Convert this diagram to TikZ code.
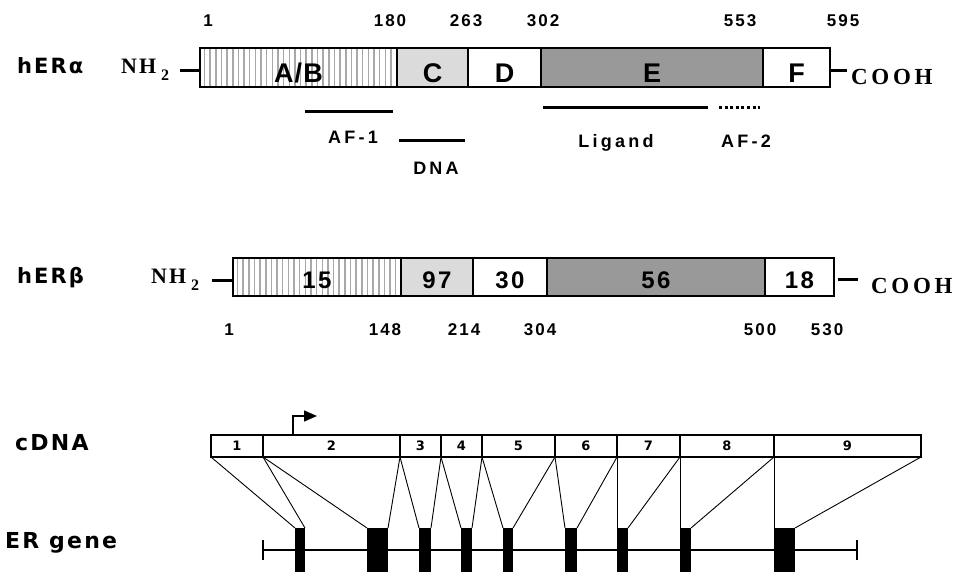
\documentclass[tikz,border=0pt]{standalone}
\usepackage{fontspec}
\setmainfont{Liberation Sans}
\newfontfamily\numf{Liberation Sans Bold}[LetterSpace=12]
\newfontfamily\lblf{Liberation Sans Bold}[LetterSpace=18]
\newfontfamily\boxf{Liberation Sans Bold}[LetterSpace=4]
\newfontfamily\boxbf{Liberation Sans Bold}[LetterSpace=10]
\newfontfamily\serf{Liberation Serif Bold}
\newfontfamily\coohf{Liberation Serif Bold}[LetterSpace=16]
\newfontfamily\comf{DejaVu Sans Bold}[LetterSpace=10]
\newfontfamily\comsf{DejaVu Sans Bold}
\usetikzlibrary{arrows.meta}
\definecolor{lgray}{gray}{0.86}
\definecolor{mgray}{gray}{0.60}
\definecolor{hgray}{gray}{0.66}
\newcommand{\nhtwo}{N\kern2pt H\kern5pt\raisebox{-7pt}{\fontsize{16}{16}\selectfont 2}}
\begin{document}
\begin{tikzpicture}[x=1pt,y=-1pt,
  seg/.style={draw, line width=1.4pt, inner sep=0pt, outer sep=0pt},
  rowA/.style={seg, minimum height=39pt, text height=31pt, text depth=0pt,
    font={\fontsize{27}{27}\boxf}},
  rowB/.style={seg, minimum height=38pt, text height=22pt, text depth=0pt,
    font={\fontsize{24}{24}\boxbf}},
  hatchln/.style={line width=1.5pt, draw=hgray},
  hatch/.style={path picture={
    \foreach \i in {4.5,10.15,...,200}
      \draw[hatchln] ([xshift=\i pt]path picture bounding box.north west) --
                     ([xshift=\i pt]path picture bounding box.south west);}},
  num/.style={anchor=base, inner sep=0pt, font={\fontsize{17}{17}\numf}},
  dom/.style={anchor=base, inner sep=0pt, font={\fontsize{18}{18}\lblf}},
  rowlbl/.style={anchor=base west, inner sep=0pt, font={\fontsize{21}{21}\comf}},
  term/.style={anchor=base west, inner sep=0pt, font={\fontsize{22}{22}\serf}},
  cooh/.style={anchor=base west, inner sep=0pt, font={\fontsize{23}{23}\coohf}},
  termdash/.style={line width=3pt},
  domline/.style={line width=3pt},
  cseg/.style={draw, line width=1.5pt, inner sep=0pt, outer sep=0pt, minimum height=22pt,
    font={\fontsize{13}{13}\comsf}},
  exon/.style={fill=black, draw=none, inner sep=0pt, outer sep=0pt, minimum height=44pt},
  link/.style={line width=0.9pt}
]
\useasboundingbox (0,0) rectangle (961,572);

% ---------------- hER alpha ----------------
\node[rowlbl] (la) at (17,74) {hERα};
\node[term] (nha) at (121,74) {\nhtwo};
\node[rowA, hatch, minimum width=197pt] (ab) at (298.5,67.5) {A/B};
\node[rowA, fill=lgray, minimum width=71pt] (c) at (432.5,67.5) {C};
\node[rowA, minimum width=73pt] (d) at (504.5,67.5) {D};
\node[rowA, fill=mgray, minimum width=222pt] (e) at (652,67.5) {E};
\node[rowA, minimum width=67pt] (f) at (796.5,67.5) {F};
\node[cooh] (ca) at (851,85) {COOH};
\coordinate (nhaend) at (180,71);
\coordinate (caend) at (847,71);
\draw[termdash] (nhaend) -- (ab.west |- nhaend);
\draw[termdash] (f.east |- caend) -- (caend);

\node[num] (n1) at (208,27) {1};
\node[num] (n180) at (390,27) {180};
\node[num] (n263) at (466,27) {263};
\node[num] (n302) at (543,27) {302};
\node[num] (n553) at (740,27) {553};
\node[num] (n595) at (843,27) {595};

\coordinate (af1a) at (305,112); \coordinate (af1b) at (393,112);
\coordinate (dnaa) at (399,141); \coordinate (dnab) at (465,141);
\coordinate (liga) at (543,108); \coordinate (ligb) at (708,108);
\coordinate (af2a) at (719,108); \coordinate (af2b) at (760,108);
\draw[domline] (af1a) -- (af1b);
\draw[domline] (dnaa) -- (dnab);
\draw[domline] (liga) -- (ligb);
\draw[line width=3pt, dash pattern=on 3pt off 2.6pt] (af2a) -- (af2b);
\node[dom] (taf1) at (353,144) {AF-1};
\node[dom] (tdna) at (436,175) {DNA};
\node[dom] (tlig) at (616,148) {Ligand};
\node[dom] (taf2) at (746,148) {AF-2};

% ---------------- hER beta ----------------
\node[rowlbl] (lb) at (17,283) {hERβ};
\node[term] (nhb) at (151,283) {\nhtwo};
\node[rowB, hatch, minimum width=168pt] (b15) at (317,277) {15};
\node[rowB, fill=lgray, minimum width=72pt] (b97) at (437,277) {97};
\node[rowB, minimum width=74pt] (b30) at (510,277) {30};
\node[rowB, fill=mgray, minimum width=218pt] (b56) at (656,277) {56};
\node[rowB, minimum width=69pt] (b18) at (799.5,277) {18};
\node[cooh] (cb) at (871,293) {COOH};
\coordinate (nhbend) at (212,280);
\coordinate (cba) at (838,279); \coordinate (cbb) at (858,279);
\draw[termdash] (nhbend) -- (b15.west |- nhbend);
\draw[termdash] (cba) -- (cbb);

\node[num] (m1) at (229,335) {1};
\node[num] (m148) at (385,335) {148};
\node[num] (m214) at (464,335) {214};
\node[num] (m304) at (540,335) {304};
\node[num] (m500) at (760,335) {500};
\node[num] (m530) at (827,335) {530};

% ---------------- cDNA / gene ----------------
\node[rowlbl, font={\fontsize{22}{22}\comf}] (lc) at (15,450) {cDNA};
\node[rowlbl, font={\fontsize{22}{22}\comf}] (lg) at (5,548) {ER gene};

\node[cseg, minimum width=52pt]  (c1) at (237,446)   {1};
\node[cseg, minimum width=137pt] (c2) at (331.5,446) {2};
\node[cseg, minimum width=41pt]  (c3) at (420.5,446) {3};
\node[cseg, minimum width=41pt]  (c4) at (461.5,446) {4};
\node[cseg, minimum width=73pt]  (c5) at (518.5,446) {5};
\node[cseg, minimum width=62pt]  (c6) at (586,446)   {6};
\node[cseg, minimum width=63pt]  (c7) at (648.5,446) {7};
\node[cseg, minimum width=94pt]  (c8) at (727,446)   {8};
\node[cseg, minimum width=147pt] (c9) at (847.5,446) {9};

\coordinate (tss) at ([xshift=30pt]c2.north west);
\coordinate (tssend) at (317,416);
\draw[line width=1.5pt, -{Triangle[length=13pt,width=11pt]}] (tss) |- (tssend);

\coordinate (gl) at (263,550);
\coordinate (gr) at (857,550);
\draw[line width=1.3pt] (gl) -- (gr);
\draw[line width=1.3pt] ([yshift=-10pt]gl) -- ([yshift=10pt]gl);
\draw[line width=1.3pt] ([yshift=-10pt]gr) -- ([yshift=10pt]gr);

\node[exon, minimum width=10pt] (e1) at (300,550) {};
\node[exon, minimum width=21pt] (e2) at (377.5,550) {};
\node[exon, minimum width=12pt] (e3) at (425,550) {};
\node[exon, minimum width=11pt] (e4) at (466.5,550) {};
\node[exon, minimum width=10pt] (e5) at (508,550) {};
\node[exon, minimum width=12pt] (e6) at (571,550) {};
\node[exon, minimum width=11pt] (e7) at (622.5,550) {};
\node[exon, minimum width=11pt] (e8) at (685.5,550) {};
\node[exon, minimum width=21pt] (e9) at (784.5,550) {};

\foreach \k in {1,...,9} {
  \draw[link] (c\k.south west) -- (e\k.north west);
  \draw[link] (c\k.south east) -- (e\k.north east);
}
\end{tikzpicture}
\end{document}
